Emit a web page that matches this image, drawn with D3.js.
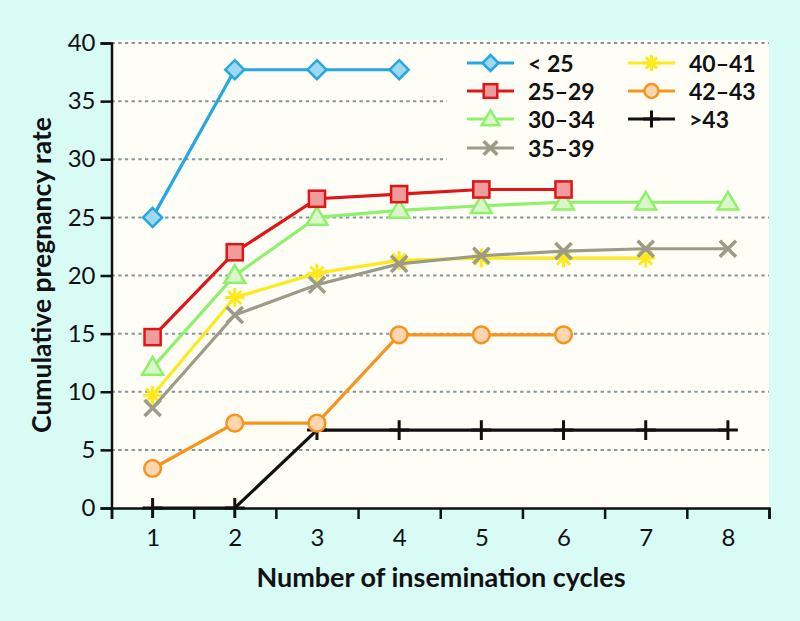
<!DOCTYPE html>
<html>
<head>
<meta charset="utf-8">
<script src="https://cdn.jsdelivr.net/npm/d3@7"></script>
<style>
  body { margin: 0; background: #d8fbf6; }
  svg { display: block; font-family: Lato, "Noto Sans", sans-serif; }
</style>
</head>
<body>
<div id="chart"></div>
<script>
// data
let cycles = [1, 2, 3, 4, 5, 6, 7, 8];
let groups = ['< 25', '25–29', '30–34', '35–39', '40–41', '42–43', '>43'];
let under25 = [25.0, 37.7, 37.7, 37.7];
let age25_29 = [14.7, 22.0, 26.6, 27.0, 27.4, 27.4];
let age30_34 = [12.1, 20.0, 25.0, 25.6, 26.0, 26.3, 26.3, 26.3];
let age35_39 = [8.6, 16.6, 19.2, 21.0, 21.7, 22.1, 22.3, 22.3];
let age40_41 = [9.7, 18.1, 20.2, 21.3, 21.5, 21.5, 21.5];
let age42_43 = [3.4, 7.3, 7.3, 14.9, 14.9, 14.9];
let over43 = [0, 0, 6.7, 6.7, 6.7, 6.7, 6.7, 6.7];
let yTicks = [0, 5, 10, 15, 20, 25, 30, 35, 40];

let W = 800, H = 621;
let margin = { top: 43, right: 31, bottom: 113, left: 111.5 };

let series = [
  { name: groups[0], values: under25, stroke: '#27a7e1', fill: '#9fd9f1', shape: 'diamond' },
  { name: groups[1], values: age25_29, stroke: '#df1519', fill: '#f19c9c', shape: 'square' },
  { name: groups[2], values: age30_34, stroke: '#8ff06c', fill: '#d9f7c9', shape: 'triangle' },
  { name: groups[3], values: age35_39, stroke: '#9b9b87', fill: 'none', shape: 'cross' },
  { name: groups[4], values: age40_41, stroke: '#ffe81c', fill: 'none', shape: 'star' },
  { name: groups[5], values: age42_43, stroke: '#f7941e', fill: '#fcd6ae', shape: 'circle' },
  { name: groups[6], values: over43, stroke: '#111111', fill: 'none', shape: 'plus' }
];

let svg = d3.select('#chart').append('svg')
  .attr('width', W)
  .attr('height', H);

svg.append('rect').attr('width', W).attr('height', H).attr('fill', '#d8fbf6');

let x = d3.scaleLinear().domain([0.5, 8.5]).range([margin.left, W - margin.right]);
let y = d3.scaleLinear().domain([0, 40]).range([H - margin.bottom, margin.top]);

// plot background
svg.append('rect')
  .attr('x', x(0.5)).attr('y', y(40) - 3)
  .attr('width', x(8.5) - x(0.5)).attr('height', y(0) - y(40) + 3)
  .attr('fill', '#fefef6');

// dotted grid
svg.selectAll('.grid').data(yTicks.slice(1)).enter().append('line')
  .attr('class', 'grid')
  .attr('x1', x(0.5)).attr('x2', x(8.5))
  .attr('y1', d => y(d)).attr('y2', d => y(d))
  .attr('stroke', '#86959a')
  .attr('stroke-width', 2)
  .attr('stroke-dasharray', '3.3,3.4');

// legend background hides grid behind it
svg.append('rect')
  .attr('x', 447).attr('y', 46)
  .attr('width', x(8.5) - 447).attr('height', 118)
  .attr('fill', '#fefef6');

// axes
let yAxis = svg.append('g')
  .attr('transform', 'translate(' + x(0.5) + ',0)')
  .call(d3.axisLeft(y).tickValues(yTicks).tickSize(11).tickPadding(5));

let xTickAxis = svg.append('g')
  .attr('transform', 'translate(0,' + y(0) + ')')
  .call(d3.axisBottom(x).tickValues(d3.range(0.5, 9, 1)).tickSize(11).tickFormat(''));

let xLabelAxis = svg.append('g')
  .attr('transform', 'translate(0,' + y(0) + ')')
  .call(d3.axisBottom(x).tickValues(cycles).tickSize(0).tickPadding(21));

svg.selectAll('.domain').attr('stroke', '#111').attr('stroke-width', 2.5);
xLabelAxis.select('.domain').remove();
svg.selectAll('.tick line').attr('stroke', '#111').attr('stroke-width', 2.5);
svg.selectAll('.tick text')
  .attr('fill', '#111')
  .style('font-size', '24px')
  .style('font-family', 'Lato, sans-serif');

// axis titles
svg.append('text')
  .attr('x', 441).attr('y', 587)
  .attr('text-anchor', 'middle')
  .style('font-size', '27px').style('font-weight', 'bold')
  .attr('fill', '#111')
  .text('Number of insemination cycles');

svg.append('text')
  .attr('transform', 'translate(51,275) rotate(-90)')
  .attr('text-anchor', 'middle')
  .style('font-size', '26.5px').style('font-weight', 'bold')
  .attr('fill', '#111')
  .text('Cumulative pregnancy rate');

// marker drawing
function drawMarker(g, s, cx, cy, r) {
  if (s.shape === 'diamond') {
    g.append('path')
      .attr('d', 'M' + cx + ',' + (cy - r) + 'L' + (cx + r) + ',' + cy + 'L' + cx + ',' + (cy + r) + 'L' + (cx - r) + ',' + cy + 'Z')
      .attr('fill', s.fill).attr('stroke', s.stroke).attr('stroke-width', 2.5);
  } else if (s.shape === 'square') {
    let a = r * 0.85;
    g.append('rect')
      .attr('x', cx - a).attr('y', cy - a).attr('width', 2 * a).attr('height', 2 * a)
      .attr('fill', s.fill).attr('stroke', s.stroke).attr('stroke-width', 2.5);
  } else if (s.shape === 'triangle') {
    let a = r * 1.1;
    g.append('path')
      .attr('d', 'M' + cx + ',' + (cy - a) + 'L' + (cx + a) + ',' + (cy + a * 0.7) + 'L' + (cx - a) + ',' + (cy + a * 0.7) + 'Z')
      .attr('fill', s.fill).attr('stroke', s.stroke).attr('stroke-width', 2.5);
  } else if (s.shape === 'circle') {
    g.append('circle')
      .attr('cx', cx).attr('cy', cy).attr('r', r * 0.88)
      .attr('fill', s.fill).attr('stroke', s.stroke).attr('stroke-width', 2.5);
  } else if (s.shape === 'cross') {
    let a = r * 0.85;
    g.append('path')
      .attr('d', 'M' + (cx - a) + ',' + (cy - a) + 'L' + (cx + a) + ',' + (cy + a) + 'M' + (cx - a) + ',' + (cy + a) + 'L' + (cx + a) + ',' + (cy - a))
      .attr('stroke', s.stroke).attr('stroke-width', 3.5).attr('fill', 'none');
  } else if (s.shape === 'star') {
    let a = r * 1.0, b = a * 0.7;
    g.append('path')
      .attr('d', 'M' + cx + ',' + (cy - a) + 'L' + cx + ',' + (cy + a) +
        'M' + (cx - a) + ',' + cy + 'L' + (cx + a) + ',' + cy +
        'M' + (cx - b) + ',' + (cy - b) + 'L' + (cx + b) + ',' + (cy + b) +
        'M' + (cx - b) + ',' + (cy + b) + 'L' + (cx + b) + ',' + (cy - b))
      .attr('stroke', s.stroke).attr('stroke-width', 3).attr('fill', 'none');
  } else if (s.shape === 'plus') {
    let a = r * 1.05;
    g.append('path')
      .attr('d', 'M' + cx + ',' + (cy - a) + 'L' + cx + ',' + (cy + a) + 'M' + (cx - a) + ',' + cy + 'L' + (cx + a) + ',' + cy)
      .attr('stroke', s.stroke).attr('stroke-width', 3).attr('fill', 'none');
  }
}

let line = d3.line()
  .x((d, i) => x(cycles[i]))
  .y(d => y(d));

// draw order so overlaps look like the original
let order = [6, 4, 3, 5, 2, 1, 0];
order.forEach(k => {
  let s = series[k];
  let g = svg.append('g');
  g.append('path')
    .datum(s.values)
    .attr('d', line)
    .attr('fill', 'none')
    .attr('stroke', s.stroke)
    .attr('stroke-width', 3.2);
  s.values.forEach((v, i) => drawMarker(g, s, x(cycles[i]), y(v), 9.5));
});

// legend
let legRows = [63, 91, 119, 148];
series.forEach((s, i) => {
  let col = i < 4 ? 0 : 1;
  let row = i < 4 ? i : i - 4;
  let lx = col === 0 ? 467 : 628;
  let ly = legRows[row];
  let g = svg.append('g');
  g.append('line')
    .attr('x1', lx).attr('x2', lx + 47)
    .attr('y1', ly).attr('y2', ly)
    .attr('stroke', s.stroke).attr('stroke-width', 3.2);
  drawMarker(g, s, lx + 23.5, ly, 8);
  g.append('text')
    .attr('x', lx + 61).attr('y', ly + 8.5)
    .style('font-size', '23px').style('font-weight', 'bold')
    .attr('fill', '#111')
    .text(s.name);
});
</script>
</body>
</html>
